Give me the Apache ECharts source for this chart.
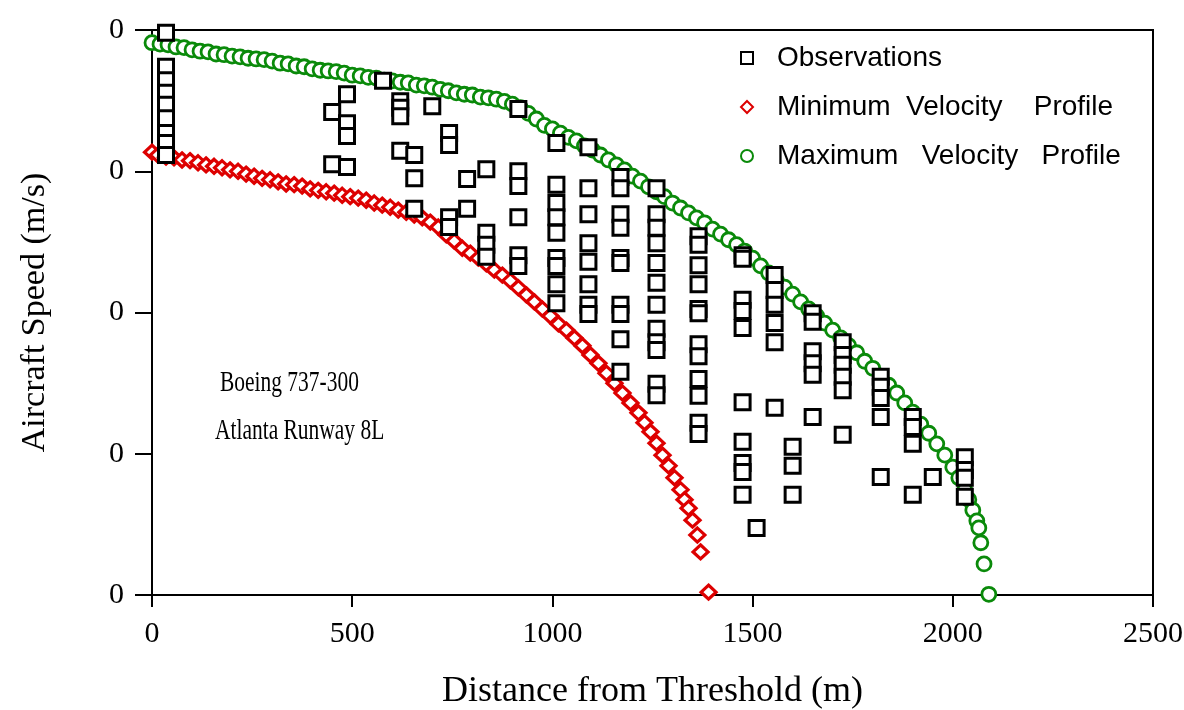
<!DOCTYPE html>
<html lang="en">
<head>
    <meta charset="UTF-8">
    <title>Aircraft Speed vs Distance from Threshold</title>
    <script src="https://cdn.jsdelivr.net/npm/echarts@6/dist/echarts.min.js"></script>
    <style>
        body { margin: 0; background: #fff; }
        #chart { width: 1184px; height: 710px; }
    </style>
</head>
<body>
    <div id="chart"></div>
    <script>
        // axis ticks
        var xTicks = [0, 500, 1000, 1500, 2000, 2500];
        var yTicks = [0, 20, 40, 60, 80];
        var yTickLabels = ['0', '0', '0', '0', '0'];

        // maximum velocity profile (distance m, speed m/s)
        var maxDist = [0, 20, 40, 60, 80, 100, 120, 140, 160, 180, 200, 220, 240, 260, 280, 300, 320, 340, 360, 380,
            400, 420, 440, 460, 480, 500, 520, 540, 560, 580, 600, 620, 640, 660, 680, 700, 720, 740, 760, 780,
            800, 820, 840, 860, 880, 900, 920, 940, 960, 980, 1000, 1020, 1040, 1060, 1080, 1100, 1120, 1140, 1160, 1180,
            1200, 1220, 1240, 1260, 1280, 1300, 1320, 1340, 1360, 1380, 1400, 1420, 1440, 1460, 1480, 1500, 1520, 1540, 1560, 1580,
            1600, 1620, 1640, 1660, 1680, 1700, 1720, 1740, 1760, 1780, 1800, 1820, 1840, 1860, 1880, 1900, 1920, 1940, 1960, 1980,
            2000, 2015, 2030, 2040, 2050, 2060, 2065, 2070, 2078, 2090];
        var maxSpeed = [78.2, 78.0, 77.9, 77.6, 77.5, 77.2, 77.0, 76.9, 76.6, 76.5, 76.3, 76.2, 76.0, 75.9, 75.8, 75.6, 75.3, 75.2, 74.9, 74.8,
            74.5, 74.3, 74.2, 74.1, 73.9, 73.6, 73.5, 73.3, 73.2, 72.9, 72.8, 72.6, 72.5, 72.2, 72.1, 71.9, 71.6, 71.4, 71.1, 70.9,
            70.8, 70.5, 70.4, 70.2, 69.9, 69.5, 69.0, 68.2, 67.4, 66.5, 66.0, 65.4, 64.8, 64.3, 63.6, 63.0, 62.3, 61.6, 60.9, 60.2,
            59.3, 58.6, 57.8, 57.1, 56.4, 55.5, 54.8, 54.1, 53.4, 52.7, 51.8, 51.1, 50.3, 49.6, 48.7, 47.7, 46.6, 45.6, 44.5, 43.6,
            42.6, 41.5, 40.5, 39.5, 38.5, 37.5, 36.4, 35.3, 34.3, 33.1, 32.1, 31.0, 29.7, 28.6, 27.2, 25.9, 24.2, 22.9, 21.4, 19.8,
            18.1, 16.6, 14.9, 13.5, 12.0, 10.5, 9.5, 7.4, 4.4, 0.1];

        // minimum velocity profile
        var minDist = [0, 15, 35, 55, 75, 95, 115, 135, 155, 175, 195, 215, 235, 255, 275, 295, 315, 335, 355, 375,
            395, 415, 435, 455, 475, 495, 515, 535, 555, 575, 595, 615, 635, 655, 675, 695, 715, 735, 755, 775,
            795, 815, 835, 855, 875, 895, 915, 935, 955, 975, 995, 1015, 1035, 1055, 1075, 1095, 1115, 1135, 1155, 1175,
            1195, 1215, 1230, 1245, 1260, 1275, 1290, 1305, 1320, 1330, 1340, 1350, 1362, 1370, 1390];
        var minSpeed = [62.7, 62.3, 62.0, 61.9, 61.6, 61.5, 61.2, 60.9, 60.7, 60.5, 60.2, 60.0, 59.6, 59.3, 59.0, 58.8, 58.5, 58.2, 58.1, 57.9,
            57.5, 57.3, 57.1, 56.9, 56.6, 56.4, 56.2, 55.9, 55.5, 55.2, 54.9, 54.5, 54.2, 53.8, 53.4, 52.8, 52.1, 51.0, 50.1, 49.1,
            48.4, 47.7, 46.9, 46.0, 45.3, 44.5, 43.5, 42.5, 41.5, 40.5, 39.5, 38.4, 37.5, 36.4, 35.3, 34.0, 32.8, 31.4, 30.0, 28.6,
            27.2, 25.8, 24.4, 23.1, 21.5, 19.8, 18.3, 16.6, 14.9, 13.5, 12.3, 10.6, 8.5, 6.1, 0.4];

        // observations, grouped by distance column
        var obsDist = [35, 450, 487, 577, 620, 655, 700, 742, 787, 835, 915, 1010, 1090, 1170, 1260, 1365, 1475, 1510, 1555, 1600, 1650, 1725, 1820, 1900, 1950, 2030];
        var obsSpeed = [
            [79.6, 74.8, 72.9, 71.1, 69.4, 67.5, 65.4, 64.0, 62.3],
            [68.4, 61.0],
            [70.9, 66.8, 65.0, 60.6],
            [72.8],
            [69.9, 69.0, 67.8, 62.9],
            [62.3, 59.0, 54.7],
            [69.2],
            [65.4, 63.7, 53.5, 52.1],
            [58.9, 54.7],
            [60.3, 51.3, 49.6, 47.9],
            [68.8, 60.0, 57.9, 53.5, 48.1, 46.6],
            [64.0, 58.1, 55.5, 53.5, 51.3, 47.7, 46.6, 44.0, 41.3],
            [63.4, 57.6, 53.9, 49.8, 47.2, 44.0, 41.1, 39.8],
            [59.2, 57.6, 53.9, 52.0, 47.7, 47.0, 41.1, 39.8, 36.2, 31.6],
            [57.6, 53.9, 52.0, 49.8, 47.0, 44.2, 41.1, 37.7, 35.8, 34.7, 29.9, 28.3],
            [50.8, 49.6, 46.7, 44.0, 40.5, 39.9, 35.5, 33.8, 30.6, 28.2, 24.4, 22.8],
            [48.1, 47.6, 41.8, 40.2, 37.8, 27.3, 21.7, 18.7, 17.4, 14.2],
            [9.5],
            [45.3, 43.2, 41.1, 38.5, 35.8, 26.5],
            [21.0, 18.3, 14.2],
            [39.9, 38.7, 34.5, 32.8, 31.2, 25.2],
            [35.8, 34.0, 32.6, 30.9, 29.0, 22.7],
            [30.9, 29.5, 27.9, 25.2, 16.7],
            [25.2, 23.8, 21.4, 14.2],
            [16.7],
            [19.5, 17.7, 16.6, 13.9]
        ];

        var seriesNames = ['Observations', 'Minimum  Velocity    Profile', 'Maximum   Velocity   Profile'];

        function pairs(xs, ys) {
            return xs.map(function (x, i) { return [x, ys[i]]; });
        }
        var obsData = [];
        obsDist.forEach(function (d, i) {
            obsSpeed[i].forEach(function (s) { obsData.push([d, s]); });
        });

        var serif = '"Liberation Serif", "Times New Roman", serif';
        var sans = '"Liberation Sans", Arial, sans-serif';

        var chart = echarts.init(document.getElementById('chart'), null, { renderer: 'canvas' });

        var option = {
            animation: false,
            backgroundColor: '#fff',
            grid: {
                left: 152, right: 31, top: 30, bottom: 115,
                outerBoundsMode: 'none',
                containLabel: false,
                show: true, borderColor: '#000', borderWidth: 2, backgroundColor: 'transparent'
            },
            legend: {
                orient: 'vertical',
                left: 735, top: 39,
                itemWidth: 12, itemHeight: 12, itemGap: 21,
                data: seriesNames,
                textStyle: { fontFamily: sans, fontSize: 28, color: '#000', padding: [0, 0, 0, 19] }
            },
            xAxis: {
                type: 'value',
                min: xTicks[0], max: xTicks[xTicks.length - 1], interval: 500,
                offset: 5,
                name: 'Distance from Threshold (m)',
                nameLocation: 'middle', nameGap: 74,
                nameTextStyle: { fontFamily: serif, fontSize: 36, color: '#000' },
                axisLine: { lineStyle: { color: '#000', width: 2 } },
                axisTick: { length: 12, lineStyle: { color: '#000', width: 2 } },
                axisLabel: {
                    fontFamily: serif, fontSize: 30, color: '#000', margin: 19,
                    formatter: function (v) { return String(v); }
                },
                splitLine: { show: false }
            },
            yAxis: {
                type: 'value',
                min: yTicks[0], max: yTicks[yTicks.length - 1], interval: 20,
                name: 'Aircraft Speed (m/s)',
                nameLocation: 'middle', nameGap: 100,
                nameTextStyle: { fontFamily: serif, fontSize: 34, color: '#000' },
                axisLine: { lineStyle: { color: '#000', width: 2 } },
                axisTick: { length: 17, lineStyle: { color: '#000', width: 2 } },
                axisLabel: {
                    fontFamily: serif, fontSize: 30, color: '#000', margin: 28,
                    formatter: function (v) { return yTickLabels[yTicks.indexOf(v)]; }
                },
                splitLine: { show: false }
            },
            graphic: [
                { type: 'text', x: 220, y: 369, scaleX: 0.74,
                  style: { text: 'Boeing 737-300', font: '29px ' + serif, fill: '#000' } },
                { type: 'text', x: 215, y: 417, scaleX: 0.74,
                  style: { text: 'Atlanta Runway 8L', font: '29px ' + serif, fill: '#000' } }
            ],
            series: [
                {
                    name: seriesNames[2], type: 'scatter', symbol: 'circle', symbolSize: 14,
                    itemStyle: { color: '#fff', borderColor: '#0a8a0a', borderWidth: 2.8, opacity: 1 },
                    data: pairs(maxDist, maxSpeed), z: 2
                },
                {
                    name: seriesNames[1], type: 'scatter', symbol: 'diamond', symbolSize: [15, 14],
                    itemStyle: { color: '#fff', borderColor: '#dd0000', borderWidth: 3.2, opacity: 1 },
                    data: pairs(minDist, minSpeed), z: 2
                },
                {
                    name: seriesNames[0], type: 'scatter', symbol: 'rect', symbolSize: 15,
                    itemStyle: { color: '#fff', borderColor: '#000', borderWidth: 3, opacity: 1 },
                    data: obsData, z: 3
                }
            ]
        };

        chart.setOption(option);
    </script>
</body>
</html>
